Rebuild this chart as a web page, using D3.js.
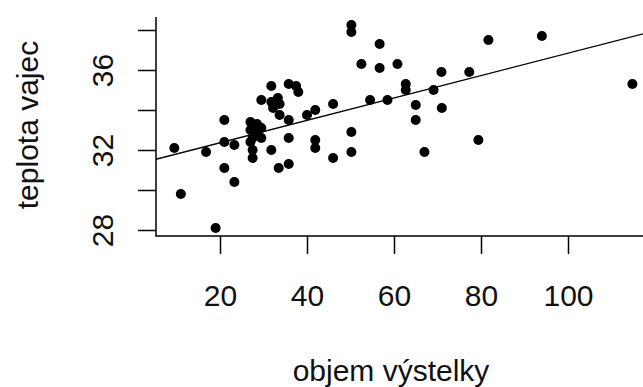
<!DOCTYPE html>
<html>
<head>
<meta charset="utf-8">
<script src="https://cdn.jsdelivr.net/npm/d3@7"></script>
<style>
  body { margin: 0; background: #fff; }
  svg { display: block; }
  text { font-family: "Liberation Sans", Arial, sans-serif; fill: #111; }
</style>
</head>
<body>
<svg width="643" height="387"></svg>
<script>
// objem výstelky (x) a teplota vajec (y)
const objem = [
  9.5, 11, 16.8, 19, 21, 23.3, 21, 23.3, 21,
  27, 28.5, 29.5, 27, 28.5, 27.5, 29.5, 27, 27.5, 27.5,
  31.8, 33.5, 35.8, 35.8, 35.8, 41.9, 41.9,
  31.8, 35.8, 37.5, 38, 29.5, 31.8, 33.3, 32.2, 33.7, 33.7,
  40, 41.9, 46, 50.2, 50.2, 56.7, 52.5, 56.7, 60.8, 62.7, 62.7,
  54.5, 58.5, 65, 65, 50.2, 50.2, 46, 67,
  70.9, 77.3, 69.1, 71, 81.7, 94, 114.8, 79.4
];
const teplota = [
  32.1, 29.8, 31.9, 28.1, 31.1, 30.4, 32.4, 32.25, 33.5,
  33.4, 33.3, 33.1, 33.0, 32.9, 32.6, 32.6, 32.4, 32.0, 31.6,
  32.0, 31.1, 31.3, 32.6, 33.5, 32.5, 32.1,
  35.2, 35.3, 35.2, 34.9, 34.5, 34.4, 34.6, 34.1, 34.3, 33.75,
  33.75, 34.0, 34.3, 38.25, 37.9, 37.3, 36.3, 36.1, 36.3, 35.3, 35.0,
  34.5, 34.5, 34.25, 33.5, 32.9, 31.9, 31.6, 31.9,
  35.9, 35.9, 35.0, 34.1, 37.5, 37.7, 35.3, 32.5
];
const xTicks = [20, 40, 60, 80, 100];
const yTicks = [28, 30, 32, 34, 36, 38];
const yLabels = [28, 32, 36];
// regresní přímka (abline)
const intercept = 31.24;
const slope = 0.056;

const svg = d3.select("svg");
const plotL = 156, plotR = 650, plotT = 17, plotB = 236;

const x = d3.scaleLinear().domain([20, 100]).range([220, 568]);
const y = d3.scaleLinear().domain([28, 38]).range([230, 30]);

svg.append("defs").append("clipPath").attr("id", "plot")
  .append("rect")
    .attr("x", plotL).attr("y", plotT)
    .attr("width", plotR - plotL).attr("height", plotB - plotT);

// body
svg.append("g")
  .selectAll("circle")
  .data(d3.range(objem.length))
  .join("circle")
    .attr("cx", i => x(objem[i]))
    .attr("cy", i => y(teplota[i]))
    .attr("r", 5)
    .attr("fill", "#000");

// přímka
const x0 = x.invert(plotL), x1 = x.invert(plotR);
svg.append("line")
  .attr("clip-path", "url(#plot)")
  .attr("x1", x(x0)).attr("y1", y(intercept + slope * x0))
  .attr("x2", x(x1)).attr("y2", y(intercept + slope * x1))
  .attr("stroke", "#000")
  .attr("stroke-width", 1.4);

// rámeček typu "l"
svg.append("path")
  .attr("d", `M${plotL},${plotT}V${plotB}H${plotR}`)
  .attr("fill", "none")
  .attr("stroke", "#000")
  .attr("stroke-width", 1.5);

const gx = svg.append("g")
  .attr("transform", `translate(0,${plotB})`)
  .call(d3.axisBottom(x).tickValues(xTicks).tickSize(18).tickFormat(d3.format("d")));
gx.select(".domain").remove();
gx.selectAll(".tick line").attr("stroke", "#000").attr("stroke-width", 1.5);
gx.selectAll(".tick text")
  .attr("y", 70).attr("dy", 0)
  .style("font-size", "30px")
  .attr("font-family", null);

const gy = svg.append("g")
  .attr("transform", `translate(${plotL},0)`)
  .call(d3.axisLeft(y).tickValues(yTicks).tickSize(18)
    .tickFormat(d => yLabels.includes(d) ? d : ""));
gy.select(".domain").remove();
gy.selectAll(".tick line").attr("stroke", "#000").attr("stroke-width", 1.5);
gy.selectAll(".tick text")
  .attr("x", 0).attr("y", -43).attr("dy", 0)
  .attr("transform", "rotate(-90)")
  .attr("text-anchor", "middle")
  .style("font-size", "30px")
  .attr("font-family", null);

svg.append("text")
  .attr("x", 391).attr("y", 381)
  .attr("text-anchor", "middle")
  .style("font-size", "30px")
  .text("objem výstelky");

svg.append("text")
  .attr("transform", "translate(38,125) rotate(-90)")
  .attr("text-anchor", "middle")
  .style("font-size", "30px")
  .text("teplota vajec");
</script>
</body>
</html>
